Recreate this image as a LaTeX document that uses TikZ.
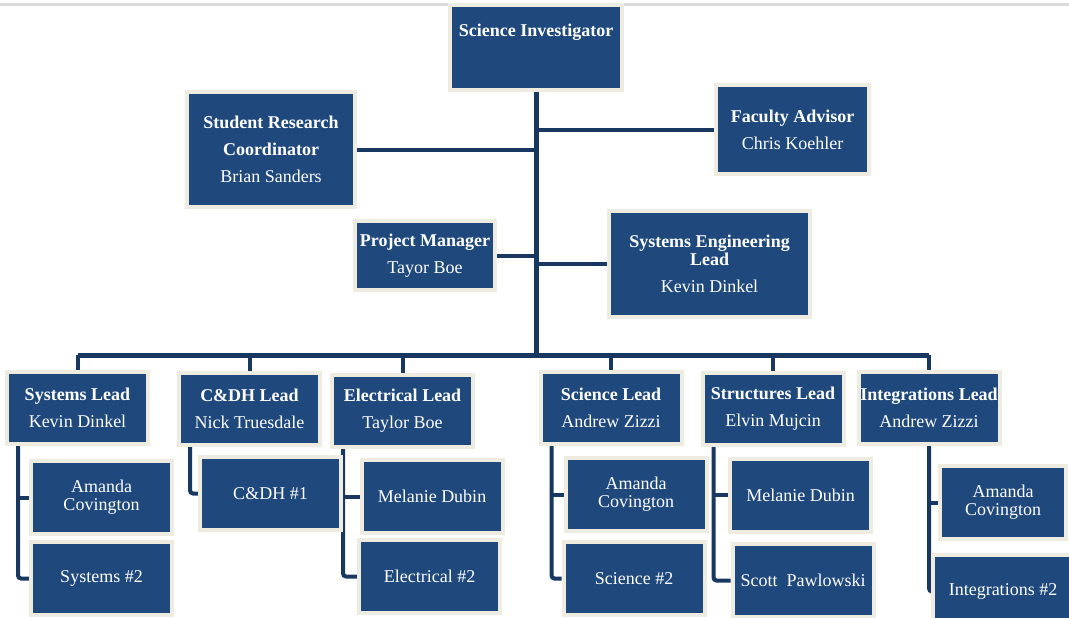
\documentclass[tikz,border=0pt]{standalone}
\usepackage{fontspec}
\setmainfont{Liberation Serif}
\usetikzlibrary{calc,backgrounds}
\definecolor{boxblue}{RGB}{31,73,125}
\definecolor{boxrim}{RGB}{238,236,225}
\definecolor{linkblue}{RGB}{24,56,98}

\begin{document}
\begin{tikzpicture}[x=1pt,y=-1pt,
  role/.style={fill=boxblue,draw=boxrim,line width=4pt,text=white,align=center,
    inner sep=0pt,font=\fontsize{18}{27}\selectfont},
  lead/.style={role,minimum width=141pt,minimum height=72pt},
  member/.style={role,minimum width=141pt,minimum height=73pt},
  link/.style={draw=linkblue,line width=4pt},
  trunk/.style={link,line width=5pt},
  bracket/.style={link,rounded corners=3pt}]
\useasboundingbox (0,0) rectangle (1069,618);
\draw[black!14,line width=3pt] (0,5) -- (1069,5);

\node[role,minimum width=172pt,minimum height=85pt] (si) at (536,47.5) {\textbf{Science Investigator}\\\strut};
\node[role,minimum width=168pt,minimum height=115pt] (src) at (271,149.5) {\textbf{Student Research}\\\textbf{Coordinator}\\Brian Sanders};
\node[role,minimum width=153pt,minimum height=89pt] (fa) at (792.5,129.5) {\textbf{Faculty Advisor}\\Chris Koehler};
\node[role,minimum width=140pt,minimum height=69pt] (pm) at (425,255.5) {\textbf{Project Manager}\\Tayor Boe};
\node[role,minimum width=201pt,minimum height=106pt] (sel) at (709.5,264) {\textbf{Systems Engineering}\\[-9pt]\textbf{Lead}\\Kevin Dinkel};

\node[lead] (syslead) at (77.5,408) {\textbf{Systems Lead}\\Kevin Dinkel};
\node[lead] (cdhlead) at (249.5,409) {\textbf{C\&DH Lead}\\Nick Truesdale};
\node[lead] (eleclead) at (402.5,411) {\textbf{Electrical Lead}\\Taylor Boe};
\node[lead] (scilead) at (611,408) {\textbf{Science Lead}\\Andrew Zizzi};
\node[lead] (strlead) at (773,409) {\textbf{Structures Lead}\\Elvin Mujcin};
\node[lead] (intlead) at (929,408) {\textbf{Integrations Lead}\\Andrew Zizzi};

\node[member] (sysa) at (101.5,497.5) {Amanda\\[-9pt]Covington};
\node[member] (sysb) at (101.5,578.5) {Systems \#2};
\node[member] (cdha) at (270.5,493.5) {C\&DH \#1};
\node[member] (eleca) at (432,496.5) {Melanie Dubin};
\node[member] (elecb) at (429.5,576.5) {Electrical \#2};
\node[member] (scia) at (636,494.5) {Amanda\\[-9pt]Covington};
\node[member] (scib) at (634,578.5) {Science \#2};
\node[member] (stra) at (800.5,495) {Melanie Dubin};
\node[member] (strb) at (803,580.5) {Scott\ \ Pawlowski};
\node[member,minimum width=126pt] (inta) at (1003,502.5) {Amanda\\[-9pt]Covington};
\node[member] (intb) at (1003,591.5) {Integrations \#2};

\coordinate (bar) at (536,355);
\coordinate (systop) at ($(syslead.south west)+(13,0)$);
\coordinate (cdhtop) at ($(cdhlead.south west)+(13,0)$);
\coordinate (electop) at ($(eleclead.south west)+(13,0)$);
\coordinate (scitop) at ($(scilead.south west)+(13,0)$);
\coordinate (strtop) at ($(strlead.south west)+(13,0)$);

\begin{scope}[on background layer]
\draw[trunk] (si.south) -- (bar);
\draw[trunk] (syslead.north |- bar) -- (intlead.north |- bar);
\foreach \n in {syslead,cdhlead,eleclead,scilead,strlead,intlead}
  \draw[link] (bar -| \n.north) -- (\n.north);
\draw[link] (src.east) -- (src.east -| bar);
\draw[link] (fa.west) -- (fa.west -| bar);
\draw[link] (pm.east) -- (pm.east -| bar);
\draw[link] (sel.west) -- (sel.west -| bar);

\draw[bracket] (systop) |- (sysb.west);
\draw[link] (systop |- sysa.west) -- (sysa.west);
\draw[bracket] (cdhtop) |- (cdha.west);
\draw[bracket] (electop) |- (elecb.west);
\draw[link] (electop |- eleca.west) -- (eleca.west);
\draw[bracket] (scitop) |- (scib.west);
\draw[link] (scitop |- scia.west) -- (scia.west);
\draw[bracket] (strtop) |- (strb.west);
\draw[link] (strtop |- stra.west) -- (stra.west);
\draw[bracket] (intlead.south) |- (intb.west);
\draw[link] (intlead.south |- inta.west) -- (inta.west);
\end{scope}
\end{tikzpicture}
\end{document}
